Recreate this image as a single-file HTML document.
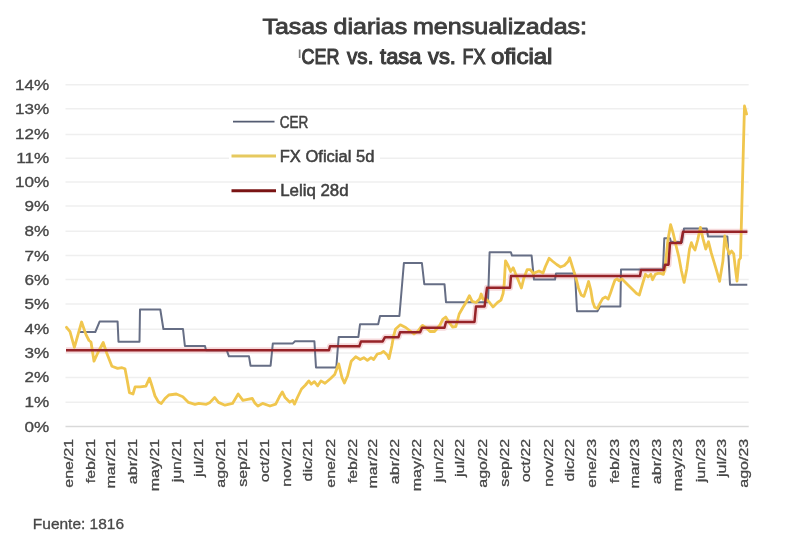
<!DOCTYPE html>
<html><head><meta charset="utf-8"><title>Tasas diarias mensualizadas</title>
<style>
html,body{margin:0;padding:0;background:#fff;}
body{width:800px;height:555px;overflow:hidden;}
svg{display:block;}
text{font-family:"Liberation Sans",Arial,sans-serif;}
.ax{font-size:16px;fill:#474747;stroke:#474747;stroke-width:0.35px;}
.lg{font-size:16px;fill:#404040;stroke:#404040;stroke-width:0.5px;}
.t1{font-size:22px;font-weight:normal;fill:#3d3d3d;stroke:#3d3d3d;stroke-width:0.85px;}
.t2{font-size:22px;font-weight:normal;fill:#3d3d3d;stroke:#3d3d3d;stroke-width:1.1px;}
.ft{font-size:14.5px;fill:#474747;stroke:#474747;stroke-width:0.3px;}
</style></head>
<body>
<svg width="800" height="555" viewBox="0 0 800 555">
<line x1="65.5" y1="426.5" x2="748.7" y2="426.5" stroke="#d9d9d9" stroke-width="1.3"/>
<line x1="65.5" y1="402.2" x2="748.7" y2="402.2" stroke="#efefef" stroke-width="1.5"/>
<line x1="65.5" y1="377.4" x2="748.7" y2="377.4" stroke="#efefef" stroke-width="1.5"/>
<line x1="65.5" y1="353" x2="748.7" y2="353" stroke="#efefef" stroke-width="1.5"/>
<line x1="65.5" y1="329.2" x2="748.7" y2="329.2" stroke="#efefef" stroke-width="1.5"/>
<line x1="65.5" y1="304.1" x2="748.7" y2="304.1" stroke="#efefef" stroke-width="1.5"/>
<line x1="65.5" y1="279.5" x2="748.7" y2="279.5" stroke="#efefef" stroke-width="1.5"/>
<line x1="65.5" y1="255.5" x2="748.7" y2="255.5" stroke="#efefef" stroke-width="1.5"/>
<line x1="65.5" y1="231.2" x2="748.7" y2="231.2" stroke="#efefef" stroke-width="1.5"/>
<line x1="65.5" y1="206" x2="748.7" y2="206" stroke="#efefef" stroke-width="1.5"/>
<line x1="65.5" y1="182" x2="748.7" y2="182" stroke="#efefef" stroke-width="1.5"/>
<line x1="65.5" y1="158.2" x2="748.7" y2="158.2" stroke="#efefef" stroke-width="1.5"/>
<line x1="65.5" y1="134.4" x2="748.7" y2="134.4" stroke="#efefef" stroke-width="1.5"/>
<line x1="65.5" y1="108.8" x2="748.7" y2="108.8" stroke="#efefef" stroke-width="1.5"/>
<line x1="65.5" y1="84.7" x2="748.7" y2="84.7" stroke="#efefef" stroke-width="1.5"/>
<text transform="translate(49.2,431.5) scale(1.07,0.94)" text-anchor="end" class="ax">0%</text>
<text transform="translate(49.2,407.2) scale(1.07,0.94)" text-anchor="end" class="ax">1%</text>
<text transform="translate(49.2,382.4) scale(1.07,0.94)" text-anchor="end" class="ax">2%</text>
<text transform="translate(49.2,358.0) scale(1.07,0.94)" text-anchor="end" class="ax">3%</text>
<text transform="translate(49.2,334.2) scale(1.07,0.94)" text-anchor="end" class="ax">4%</text>
<text transform="translate(49.2,309.1) scale(1.07,0.94)" text-anchor="end" class="ax">5%</text>
<text transform="translate(49.2,284.5) scale(1.07,0.94)" text-anchor="end" class="ax">6%</text>
<text transform="translate(49.2,260.5) scale(1.07,0.94)" text-anchor="end" class="ax">7%</text>
<text transform="translate(49.2,236.2) scale(1.07,0.94)" text-anchor="end" class="ax">8%</text>
<text transform="translate(49.2,211.0) scale(1.07,0.94)" text-anchor="end" class="ax">9%</text>
<text transform="translate(49.2,187.0) scale(1.07,0.94)" text-anchor="end" class="ax">10%</text>
<text transform="translate(49.2,163.2) scale(1.07,0.94)" text-anchor="end" class="ax">11%</text>
<text transform="translate(49.2,139.4) scale(1.07,0.94)" text-anchor="end" class="ax">12%</text>
<text transform="translate(49.2,113.8) scale(1.07,0.94)" text-anchor="end" class="ax">13%</text>
<text transform="translate(49.2,89.7) scale(1.07,0.94)" text-anchor="end" class="ax">14%</text>
<text transform="translate(72.7,438.8) rotate(-90) scale(1,0.83)" text-anchor="end" class="ax">ene/21</text>
<text transform="translate(94.9,438.8) rotate(-90) scale(1,0.83)" text-anchor="end" class="ax">feb/21</text>
<text transform="translate(115.0,438.8) rotate(-90) scale(1,0.83)" text-anchor="end" class="ax">mar/21</text>
<text transform="translate(137.3,438.8) rotate(-90) scale(1,0.83)" text-anchor="end" class="ax">abr/21</text>
<text transform="translate(158.8,438.8) rotate(-90) scale(1,0.83)" text-anchor="end" class="ax">may/21</text>
<text transform="translate(181.0,438.8) rotate(-90) scale(1,0.83)" text-anchor="end" class="ax">jun/21</text>
<text transform="translate(202.5,438.8) rotate(-90) scale(1,0.83)" text-anchor="end" class="ax">jul/21</text>
<text transform="translate(224.8,438.8) rotate(-90) scale(1,0.83)" text-anchor="end" class="ax">ago/21</text>
<text transform="translate(247.0,438.8) rotate(-90) scale(1,0.83)" text-anchor="end" class="ax">sep/21</text>
<text transform="translate(268.5,438.8) rotate(-90) scale(1,0.83)" text-anchor="end" class="ax">oct/21</text>
<text transform="translate(290.8,438.8) rotate(-90) scale(1,0.83)" text-anchor="end" class="ax">nov/21</text>
<text transform="translate(312.3,438.8) rotate(-90) scale(1,0.83)" text-anchor="end" class="ax">dic/21</text>
<text transform="translate(334.5,438.8) rotate(-90) scale(1,0.83)" text-anchor="end" class="ax">ene/22</text>
<text transform="translate(356.8,438.8) rotate(-90) scale(1,0.83)" text-anchor="end" class="ax">feb/22</text>
<text transform="translate(376.8,438.8) rotate(-90) scale(1,0.83)" text-anchor="end" class="ax">mar/22</text>
<text transform="translate(399.1,438.8) rotate(-90) scale(1,0.83)" text-anchor="end" class="ax">abr/22</text>
<text transform="translate(420.6,438.8) rotate(-90) scale(1,0.83)" text-anchor="end" class="ax">may/22</text>
<text transform="translate(442.8,438.8) rotate(-90) scale(1,0.83)" text-anchor="end" class="ax">jun/22</text>
<text transform="translate(464.3,438.8) rotate(-90) scale(1,0.83)" text-anchor="end" class="ax">jul/22</text>
<text transform="translate(486.6,438.8) rotate(-90) scale(1,0.83)" text-anchor="end" class="ax">ago/22</text>
<text transform="translate(508.8,438.8) rotate(-90) scale(1,0.83)" text-anchor="end" class="ax">sep/22</text>
<text transform="translate(530.3,438.8) rotate(-90) scale(1,0.83)" text-anchor="end" class="ax">oct/22</text>
<text transform="translate(552.6,438.8) rotate(-90) scale(1,0.83)" text-anchor="end" class="ax">nov/22</text>
<text transform="translate(574.1,438.8) rotate(-90) scale(1,0.83)" text-anchor="end" class="ax">dic/22</text>
<text transform="translate(596.3,438.8) rotate(-90) scale(1,0.83)" text-anchor="end" class="ax">ene/23</text>
<text transform="translate(618.6,438.8) rotate(-90) scale(1,0.83)" text-anchor="end" class="ax">feb/23</text>
<text transform="translate(638.6,438.8) rotate(-90) scale(1,0.83)" text-anchor="end" class="ax">mar/23</text>
<text transform="translate(660.9,438.8) rotate(-90) scale(1,0.83)" text-anchor="end" class="ax">abr/23</text>
<text transform="translate(682.4,438.8) rotate(-90) scale(1,0.83)" text-anchor="end" class="ax">may/23</text>
<text transform="translate(704.6,438.8) rotate(-90) scale(1,0.83)" text-anchor="end" class="ax">jun/23</text>
<text transform="translate(726.2,438.8) rotate(-90) scale(1,0.83)" text-anchor="end" class="ax">jul/23</text>
<text transform="translate(748.4,438.8) rotate(-90) scale(1,0.83)" text-anchor="end" class="ax">ago/23</text>
<polyline points="66.0,350.2 329.0,350.2 330.0,346.3 359.3,346.3 361.0,341.4 382.7,341.4 385.0,337.2 398.5,337.2 400.0,332.3 420.1,332.3 422.0,327.8 444.5,327.8 446.0,322.0 474.5,322.0 476.0,306.4 484.6,306.4 487.0,287.8 510.0,287.8 511.0,276.0 640.0,276.0 641.0,270.0 663.8,270.0 665.0,264.7 668.5,264.7 670.0,243.0 681.0,243.0 683.0,231.8 747.4,231.8" fill="none" stroke="#f6d9db" stroke-width="6" stroke-linejoin="round"/>
<polyline points="78.7,332.0 95.3,332.0 99.6,321.6 117.6,321.6 118.5,341.8 139.5,341.8 140.0,309.5 160.3,309.5 163.4,329.0 183.0,329.0 184.9,346.0 205.0,346.0 206.0,350.2 226.7,350.2 228.9,356.3 249.0,356.3 250.5,365.7 270.6,365.7 272.8,343.6 292.6,343.6 295.0,341.2 314.4,341.2 316.0,367.5 336.3,367.5 338.7,336.9 358.4,336.9 360.0,324.3 378.2,324.3 380.0,316.0 399.4,316.0 403.9,263.0 421.9,263.0 424.3,284.2 444.5,284.2 446.0,302.2 488.0,302.2 489.6,252.2 510.9,252.2 512.0,255.6 531.6,255.6 534.0,279.6 555.0,279.6 556.0,273.5 575.0,273.5 577.0,311.2 597.4,311.2 600.0,306.5 620.4,306.5 621.0,269.6 663.0,269.6 664.3,238.3 670.0,238.3 671.0,242.0 682.0,242.0 684.0,228.5 706.7,228.5 708.0,236.5 727.4,236.5 730.0,284.7 747.3,284.7" fill="none" stroke="#666e85" stroke-width="2" stroke-linejoin="round"/>
<polyline points="66.5,327.3 70.0,331.7 74.4,347.3 81.6,322.0 86.0,334.6 89.0,340.5 91.0,342.0 94.0,361.2 98.2,352.0 103.2,342.5 106.8,353.3 111.9,366.3 117.6,368.4 122.0,367.7 125.0,368.8 127.2,380.3 129.4,392.6 133.0,394.0 135.1,386.8 140.2,386.8 145.9,386.1 149.5,378.2 152.0,386.0 155.0,396.0 158.5,402.0 161.3,403.5 165.0,398.5 168.8,395.0 176.3,394.0 182.8,396.8 188.5,402.4 195.0,404.3 198.8,403.4 206.3,404.3 210.0,402.4 214.7,397.5 218.5,402.4 225.0,405.2 232.5,403.4 238.2,394.0 242.9,400.3 247.6,399.4 252.3,398.5 255.0,403.2 257.9,406.0 262.6,403.4 270.0,406.0 275.7,404.1 279.5,396.6 282.3,392.0 285.1,397.5 289.8,402.2 292.6,400.3 294.5,404.1 297.4,397.5 301.5,389.0 305.5,385.0 308.8,380.9 311.2,384.2 314.4,381.7 317.7,385.8 320.9,380.9 325.0,383.3 330.6,378.5 334.7,374.4 337.1,368.0 338.7,363.9 342.0,377.7 344.4,383.0 347.6,375.7 351.2,361.3 355.7,356.8 360.2,359.5 363.8,357.7 367.4,360.4 371.0,357.7 373.7,359.5 377.3,354.0 381.0,353.2 383.6,351.4 387.3,355.0 389.0,358.6 391.8,346.0 393.6,336.0 395.6,329.0 400.3,324.8 405.7,327.5 410.2,331.0 414.0,334.0 418.0,331.0 422.5,325.5 427.0,328.5 430.0,331.5 434.5,331.5 440.0,325.0 443.0,319.0 445.7,317.0 448.5,321.5 452.5,327.0 455.9,326.5 459.2,314.0 462.6,308.0 466.0,302.5 469.4,295.7 472.2,301.4 476.1,302.5 479.5,299.1 481.2,294.0 482.9,299.1 486.0,299.0 489.6,302.5 493.0,307.0 497.5,302.5 500.9,300.2 503.1,293.5 504.2,284.0 505.5,260.8 507.6,264.4 510.7,271.6 513.2,267.8 515.7,274.1 518.9,281.7 521.4,288.0 523.9,277.9 527.1,269.7 530.2,269.6 533.4,273.5 536.5,272.0 539.0,271.0 543.0,273.0 545.4,266.5 549.1,258.3 552.9,261.5 556.7,264.5 560.5,267.0 564.3,265.5 568.1,261.5 569.7,257.8 572.4,266.6 574.5,273.4 576.5,280.1 578.5,288.2 581.2,295.0 583.9,296.4 586.6,288.2 588.6,281.5 590.7,289.6 592.7,301.8 594.7,307.2 597.4,308.5 600.1,303.1 602.8,298.4 605.5,297.0 608.2,299.1 610.3,293.6 613.0,285.5 615.0,280.1 617.0,278.8 619.0,280.8 621.8,278.8 624.5,281.5 628.5,285.5 632.6,289.6 636.6,293.6 639.3,295.0 642.7,283.3 645.4,274.3 648.1,277.0 650.8,274.3 652.6,279.7 655.3,274.3 658.0,273.4 660.7,273.4 663.4,274.3 665.2,267.0 667.9,240.0 670.6,224.7 673.3,233.7 676.0,245.5 678.7,256.3 681.4,270.7 684.1,282.4 686.8,268.9 689.5,249.1 691.4,242.7 693.2,247.3 695.0,250.0 697.7,240.0 700.4,227.4 703.1,239.1 705.8,249.1 708.5,241.8 711.2,252.7 713.9,261.7 716.6,270.7 719.6,281.4 722.9,261.1 724.8,236.0 727.2,248.1 729.4,253.9 731.6,251.0 733.7,253.9 735.9,272.6 737.0,281.0 739.0,260.0 740.5,258.0 742.0,200.0 744.5,106.0 746.6,114.0" fill="none" stroke="#f0c64e" stroke-width="2.8" stroke-linejoin="round" stroke-linecap="round"/>
<polyline points="66.0,350.2 329.0,350.2 330.0,346.3 359.3,346.3 361.0,341.4 382.7,341.4 385.0,337.2 398.5,337.2 400.0,332.3 420.1,332.3 422.0,327.8 444.5,327.8 446.0,322.0 474.5,322.0 476.0,306.4 484.6,306.4 487.0,287.8 510.0,287.8 511.0,276.0 640.0,276.0 641.0,270.0 663.8,270.0 665.0,264.7 668.5,264.7 670.0,243.0 681.0,243.0 683.0,231.8 747.4,231.8" fill="none" stroke="#962328" stroke-width="2.5" stroke-linejoin="round"/>
<rect x="229" y="152" width="151" height="12" fill="#fff"/>
<line x1="233" y1="121.7" x2="274.5" y2="121.7" stroke="#545c72" stroke-width="1.7"/>
<line x1="231.5" y1="156" x2="276" y2="156" stroke="#e6c95f" stroke-width="3"/>
<line x1="231.5" y1="190.8" x2="276" y2="190.8" stroke="#7a1414" stroke-width="3"/>
<text x="279.75" y="127.9" class="lg" textLength="28.60" lengthAdjust="spacingAndGlyphs">CER</text>
<text x="279.75" y="162.3" class="lg" textLength="94.60" lengthAdjust="spacingAndGlyphs">FX Oficial 5d</text>
<text x="280.15" y="195.6" class="lg" textLength="68.45" lengthAdjust="spacingAndGlyphs">Leliq 28d</text>
<text x="262.43" y="34" class="t1" textLength="65.16" lengthAdjust="spacingAndGlyphs">Tasas</text>
<text x="333.53" y="34" class="t1" textLength="73.75" lengthAdjust="spacingAndGlyphs">diarias</text>
<text x="412.93" y="34" class="t1" textLength="174.16" lengthAdjust="spacingAndGlyphs">mensualizadas:</text>
<rect x="298.8" y="49.5" width="1.7" height="8.5" fill="#7a7a7a"/>
<text x="301.55" y="63.5" class="t2" textLength="37.91" lengthAdjust="spacingAndGlyphs">CER</text>
<text x="347.05" y="63.5" class="t2" textLength="26.40" lengthAdjust="spacingAndGlyphs">vs.</text>
<text x="380.05" y="63.5" class="t2" textLength="41.38" lengthAdjust="spacingAndGlyphs">tasa</text>
<text x="428.05" y="63.5" class="t2" textLength="27.90" lengthAdjust="spacingAndGlyphs">vs.</text>
<text x="462.55" y="63.5" class="t2" textLength="22.90" lengthAdjust="spacingAndGlyphs">FX</text>
<text x="491.05" y="63.5" class="t2" textLength="61.39" lengthAdjust="spacingAndGlyphs">oficial</text>
<text x="32.85" y="529" class="ft" textLength="91.19" lengthAdjust="spacingAndGlyphs">Fuente: 1816</text>
</svg>
</body></html>
